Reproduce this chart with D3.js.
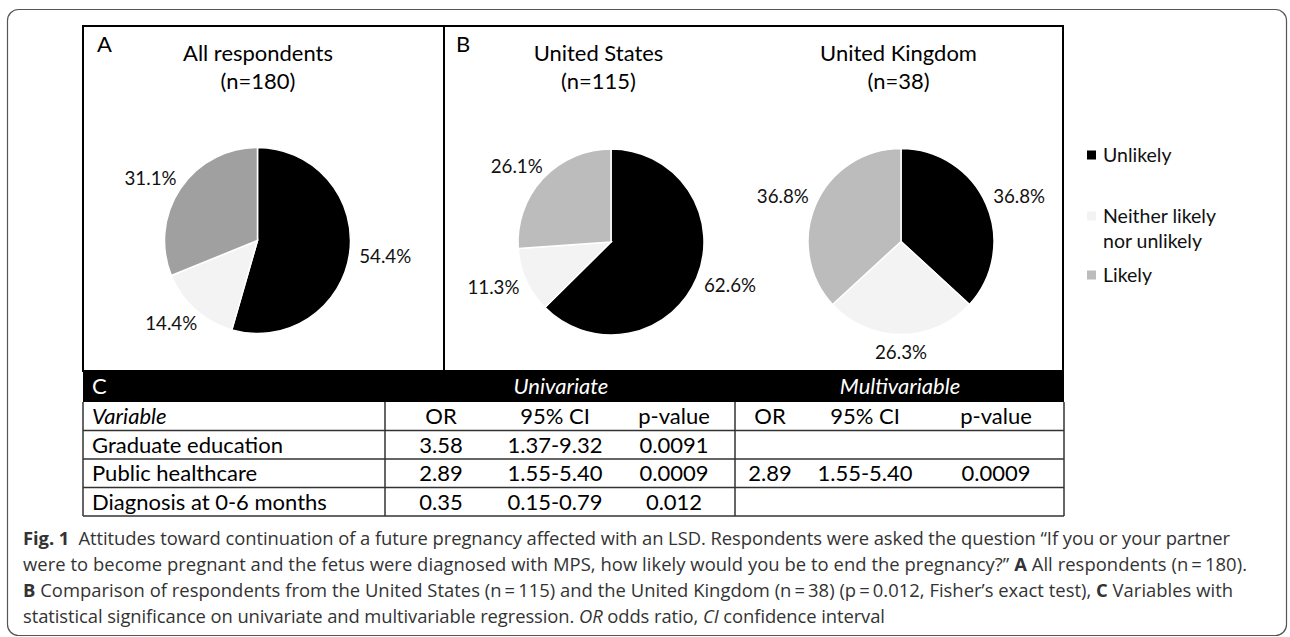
<!DOCTYPE html>
<html><head><meta charset="utf-8">
<script src="https://cdn.jsdelivr.net/npm/d3@7"></script>
<style>html,body{margin:0;padding:0;background:#fff}svg{display:block}</style>
</head><body>
<svg id="chart" width="1290" height="637"></svg>
<script>
// ---------------- data ----------------
const categories = ["Unlikely", "Neither likely nor unlikely", "Likely"];
const legendLines = [["Unlikely"], ["Neither likely", "nor unlikely"], ["Likely"]];
const panelLetters = ["A", "B", "C"];
const titleAll = ["All respondents", "(n=180)"];
const titleUS = ["United States", "(n=115)"];
const titleUK = ["United Kingdom", "(n=38)"];
const allValues = [54.4, 14.4, 31.1];
const usValues = [62.6, 11.3, 26.1];
const ukValues = [36.8, 26.3, 36.8];
const colorsA = ["#000000", "#f2f3f2", "#a0a0a0"];
const colorsB = ["#000000", "#f2f3f2", "#bcbcbc"];
const tableGroups = ["Univariate", "Multivariable"];
const tableColumns = ["OR", "95% CI", "p-value", "OR", "95% CI", "p-value"];
const tableVariables = ["Graduate education", "Public healthcare", "Diagnosis at 0-6 months"];
const uniOR = ["3.58", "2.89", "0.35"];
const uniCI = ["1.37-9.32", "1.55-5.40", "0.15-0.79"];
const uniP = ["0.0091", "0.0009", "0.012"];
const multiOR = ["", "2.89", ""];
const multiCI = ["", "1.55-5.40", ""];
const multiP = ["", "0.0009", ""];
const captionLines = [
  [["Fig. 1", "b"], ["\u2002Attitudes toward continuation of a future pregnancy affected with an LSD. Respondents were asked the question \u201cIf you or your partner", ""]],
  [["were to become pregnant and the fetus were diagnosed with MPS, how likely would you be to end the pregnancy?\u201d ", ""], ["A", "b"], [" All respondents (n\u2009=\u2009180).", ""]],
  [["B", "b"], [" Comparison of respondents from the United States (n\u2009=\u2009115) and the United Kingdom (n\u2009=\u200938) (p\u2009=\u20090.012, Fisher\u2019s exact test), ", ""], ["C", "b"], [" Variables with", ""]],
  [["statistical significance on univariate and multivariable regression. ", ""], ["OR", "i"], [" odds ratio, ", ""], ["CI", "i"], [" confidence interval", ""]]
];

// ---------------- layout ----------------
const svg = d3.select("#chart");
const F = "Lato, 'Liberation Sans', Arial, sans-serif";
const CF = "'Open Sans', 'Liberation Sans', Arial, sans-serif";

function fitSize(family, sample, target, weight, style) {
  const t = svg.append("text").attr("font-family", family).attr("font-size", 100)
    .attr("font-weight", weight || 400).attr("font-style", style || "normal").text(sample);
  const w = t.node().getComputedTextLength();
  t.remove();
  return 100 * target / w;
}
const titleSize = fitSize(F, "All respondents", 150);
const labelSize = fitSize(F, "54.4%", 52);
const legendSize = fitSize(F, "Neither likely", 113);
const tableSize = fitSize(F, "Graduate education", 191);

// outer frame
svg.append("rect").attr("x", 7.5).attr("y", 9.5).attr("width", 1279).attr("height", 626)
  .attr("rx", 11).attr("fill", "none").attr("stroke", "#555").attr("stroke-width", 1.2);

const R = 93;
function drawPie(cx, cy, values, colors) {
  const g = svg.append("g");
  const pie = d3.pie().sort(null).value(d => d);
  const arcGen = d3.arc().innerRadius(0).outerRadius(R);
  const arcs = pie(values);
  g.selectAll("path").data(arcs).join("path")
    .attr("transform", `translate(${cx},${cy})`)
    .attr("d", arcGen)
    .attr("fill", (d, i) => colors[i])
    .attr("stroke", "#fff").attr("stroke-width", 1.5);
  const fmt = d3.format(".1f");
  const gap = 10;
  arcs.forEach(a => {
    const mid = (a.startAngle + a.endAngle) / 2;
    const ux = Math.sin(mid), uy = -Math.cos(mid);
    const t = g.append("text").attr("font-family", F).attr("font-size", labelSize)
      .attr("fill", "#111").attr("text-anchor", "middle").attr("dy", "0.35em")
      .text(fmt(a.data) + "%");
    const w = t.node().getComputedTextLength();
    const hh = labelSize * 0.45;
    t.attr("x", cx + ux * (R + gap) + ux * w / 2)
     .attr("y", cy + uy * (R + gap) + uy * hh);
  });
}
function drawTitle(cx, lines) {
  svg.append("text").attr("font-family", F).attr("font-size", titleSize).attr("fill", "#000")
    .attr("text-anchor", "middle").attr("x", cx).attr("y", 61).text(lines[0]);
  svg.append("text").attr("font-family", F).attr("font-size", titleSize).attr("fill", "#000")
    .attr("text-anchor", "middle").attr("x", cx).attr("y", 89).text(lines[1]);
}

drawPie(257.5, 240.5, allValues, colorsA);
drawPie(611, 242, usValues, colorsB);
drawPie(901, 241.5, ukValues, colorsB);
drawTitle(258, titleAll);
drawTitle(598.5, titleUS);
drawTitle(898.5, titleUK);

svg.append("text").attr("font-family", F).attr("font-size", titleSize).attr("x", 97).attr("y", 52).text(panelLetters[0]);
svg.append("text").attr("font-family", F).attr("font-size", titleSize).attr("x", 456).attr("y", 52).text(panelLetters[1]);

// panel borders
svg.append("rect").attr("x", 83).attr("y", 26).attr("width", 980).attr("height", 345)
  .attr("fill", "none").attr("stroke", "#000").attr("stroke-width", 2);
svg.append("line").attr("x1", 444).attr("x2", 444).attr("y1", 26).attr("y2", 371)
  .attr("stroke", "#000").attr("stroke-width", 2);

// legend
const legendColors = [colorsB[0], colorsB[1], colorsB[2]];
const legendY = d3.scalePoint().domain(categories).range([155, 275]);
const legendOffsets = [0, 62 - 60, 0];
categories.forEach((c, i) => {
  const y = i === 1 ? 216 : legendY(c);
  svg.append("rect").attr("x", 1087).attr("y", y - 4.5).attr("width", 9).attr("height", 9)
    .attr("fill", legendColors[i]);
  legendLines[i].forEach((ln, j) => {
    svg.append("text").attr("font-family", F).attr("font-size", legendSize).attr("fill", "#111")
      .attr("x", 1103).attr("y", y + j * 25).attr("dy", "0.35em").text(ln);
  });
});

// table
const tLeft = 83, tRight = 1064, tTop = 371, hdrBottom = 402, tBottom = 516;
const div1 = 385, div2 = 735;
const rowScale = d3.scaleBand().domain(["Variable", ...tableVariables]).range([hdrBottom, tBottom]);
const colX = [441, 555, 674, 770, 865, 996];
svg.append("rect").attr("x", tLeft).attr("y", tTop).attr("width", tRight - tLeft).attr("height", hdrBottom - tTop).attr("fill", "#000");
svg.append("text").attr("font-family", F).attr("font-size", tableSize).attr("fill", "#fff")
  .attr("x", 92).attr("y", (tTop + hdrBottom) / 2).attr("dy", "0.36em").text(panelLetters[2]);
[561, 900].forEach((x, i) => {
  svg.append("text").attr("font-family", F).attr("font-size", tableSize).attr("font-style", "italic")
    .attr("fill", "#fff").attr("text-anchor", "middle").attr("x", x).attr("y", (tTop + hdrBottom) / 2)
    .attr("dy", "0.36em").text(tableGroups[i]);
});
// grid lines
const lineColor = "#333";
rowScale.domain().forEach(r => {
  const y = rowScale(r) + rowScale.bandwidth();
  svg.append("line").attr("x1", tLeft).attr("x2", tRight).attr("y1", y).attr("y2", y)
    .attr("stroke", lineColor).attr("stroke-width", 1.5);
});
[tLeft, div1, div2, tRight].forEach(x => {
  svg.append("line").attr("x1", x).attr("x2", x).attr("y1", hdrBottom).attr("y2", tBottom)
    .attr("stroke", lineColor).attr("stroke-width", 1.5);
});
// column header row
const yc = r => rowScale(r) + rowScale.bandwidth() / 2;
svg.append("text").attr("font-family", F).attr("font-size", tableSize).attr("font-style", "italic")
  .attr("fill", "#000").attr("x", 92).attr("y", yc("Variable")).attr("dy", "0.36em").text("Variable");
tableColumns.forEach((c, i) => {
  svg.append("text").attr("font-family", F).attr("font-size", tableSize).attr("fill", "#000")
    .attr("text-anchor", "middle").attr("x", colX[i]).attr("y", yc("Variable")).attr("dy", "0.36em").text(c);
});
tableVariables.forEach((v, k) => {
  const y = yc(v);
  svg.append("text").attr("font-family", F).attr("font-size", tableSize).attr("fill", "#000")
    .attr("x", 92).attr("y", y).attr("dy", "0.36em").text(v);
  [uniOR[k], uniCI[k], uniP[k], multiOR[k], multiCI[k], multiP[k]].forEach((val, i) => {
    if (!val) return;
    svg.append("text").attr("font-family", F).attr("font-size", tableSize).attr("fill", "#000")
      .attr("text-anchor", "middle").attr("x", colX[i]).attr("y", y).attr("dy", "0.36em").text(val);
  });
});

// caption
const capTargets = [1207, 1224, 1210, 862];
const capBase = [545, 571, 597, 623];
function capText(i, size) {
  const t = svg.append("text").attr("font-family", CF).attr("font-size", size).attr("fill", "#333")
    .attr("x", 23).attr("y", capBase[i]);
  captionLines[i].forEach(([s, st]) => {
    t.append("tspan").attr("font-weight", st === "b" ? 700 : 400)
      .attr("font-style", st === "i" ? "italic" : "normal").text(s);
  });
  return t;
}
let sizes = captionLines.map((l, i) => {
  const t = capText(i, 16);
  const w = t.node().getComputedTextLength();
  t.remove();
  return 16 * capTargets[i] / w;
});
const capSize = d3.mean(sizes.slice(0, 3));
captionLines.forEach((l, i) => {
  const t = capText(i, capSize);
  t.attr("textLength", capTargets[i]).attr("lengthAdjust", "spacing");
});
</script>
</body></html>
